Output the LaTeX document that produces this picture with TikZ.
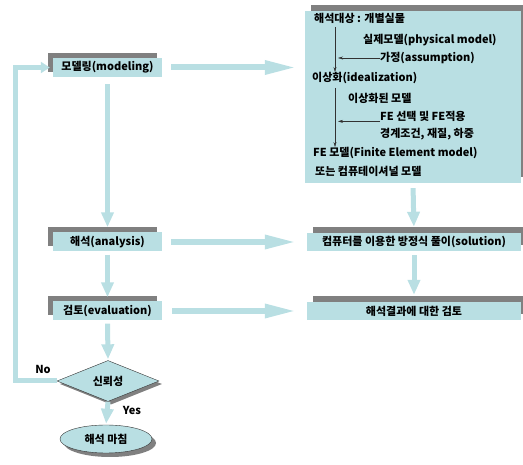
\documentclass[tikz,border=0pt]{standalone}
\usepackage{fontspec}
\setmainfont{Noto Sans CJK KR}
\usetikzlibrary{shapes.geometric, arrows.meta, positioning, calc, shadows}
\definecolor{pale_cyan}{RGB}{185, 223, 227}
\definecolor{shade_gray}{RGB}{128, 128, 128}
\definecolor{line_gray}{RGB}{50, 50, 50}

\begin{document}
\begin{tikzpicture}[
    x=1pt, y=-1pt,
    font=\fontsize{11}{13}\selectfont\bfseries,
    stage/.style={
        rectangle,
        fill=pale_cyan,
        minimum width=109pt,
        minimum height=19pt,
        inner sep=0pt,
        general shadow={fill=shade_gray, shadow xshift=-5pt, shadow yshift=5pt}
    },
    result/.style={
        rectangle,
        fill=pale_cyan,
        minimum width=214pt,
        minimum height=18pt,
        inner sep=0pt,
        general shadow={fill=shade_gray, shadow xshift=6pt, shadow yshift=6pt}
    },
    check/.style={
        diamond,
        draw=line_gray,
        fill=pale_cyan,
        minimum width=102pt,
        minimum height=41pt,
        inner sep=0pt,
        general shadow={fill=shade_gray, shadow xshift=3pt, shadow yshift=-3pt}
    },
    finish/.style={
        ellipse,
        draw=line_gray,
        fill=pale_cyan,
        minimum width=92pt,
        minimum height=28pt,
        inner sep=0pt,
        general shadow={fill=shade_gray, shadow xshift=4pt, shadow yshift=-4pt}
    },
    item/.style={
        anchor=west,
        inner sep=0pt
    },
    note/.style={
        inner sep=0pt
    },
    flow/.style={
        draw=pale_cyan,
        line width=6pt,
        -{Triangle[length=32pt, width=13pt]}
    },
    drop/.style={
        draw=pale_cyan,
        line width=5pt,
        -{Triangle[length=15pt, width=12pt]}
    },
    back_flow/.style={
        draw=pale_cyan,
        line width=5pt,
        -{Triangle[length=9pt, width=11pt]}
    },
    pointer/.style={
        draw=line_gray,
        thin,
        -{Stealth[length=5pt, width=3pt]}
    },
]
\useasboundingbox (0,0) rectangle (523,465);

% Left column
\node[stage] (model) at (107.5,67.5) {모델링(modeling)};
\node[stage] (analysis) at (107.5,242) {해석(analysis)};
\node[stage] (review) at (107.5,311) {검토(evaluation)};
\node[check] (trust) at (108,381) {신뢰성};
\node[finish] (done) at (106,439) {해석 마침};

\node[note] (no_tag) at (43,369) {No};
\node[note] (yes_tag) at (132,410) {Yes};

% Right column
\node[result, minimum width=216pt, minimum height=172pt] (target) at (413,97) {};
\node[result] (solve) at (414,242) {컴퓨터를 이용한 방정식 풀이(solution)};
\node[result] (check_out) at (414,311) {해석결과에 대한 검토};

\node[item] (object) at (314,18) {해석대상 : 개별실물};
\node[item] (physical) at (363,40) {실제모델(physical model)};
\node[item] (assume) at (380,58) {가정(assumption)};
\node[item] (ideal) at (312,78) {이상화(idealization)};
\node[item] (ideal_model) at (348,98) {이상화된 모델};
\node[item] (fe_pick) at (380,116) {FE 선택 및 FE적용};
\node[item] (bc) at (380,134) {경계조건, 재질, 하중};
\node[item] (fe_model) at (313,153) {FE 모델(Finite Element model)};
\node[item] (comp_model) at (315,171) {또는 컴퓨테이셔널 모델};

% Thin arrows in the model box
\coordinate (stem_a) at (335,27);
\coordinate (stem_b) at (335,88);
\draw[pointer] (stem_a) -- (stem_a |- ideal.north);
\draw[pointer, shorten >=3pt] (assume.west) -- (stem_a |- assume.west);
\draw[pointer] (stem_b) -- (stem_b |- fe_model.north);
\draw[pointer, shorten >=3pt] (fe_pick.south west) -- (stem_b |- fe_pick.south west);

% Broad arrows
\draw[flow, shorten <=9pt, shorten >=8pt] (model.east) -- (model.east -| target.west);
\draw[flow, shorten <=9pt, shorten >=10pt] (analysis.east) -- (solve.west);
\draw[flow, shorten <=10pt, shorten >=10pt] (review.east) -- (check_out.west);

\draw[drop, shorten <=7pt, shorten >=5pt] (model.south) -- (analysis.north);
\draw[drop, shorten <=3pt, shorten >=4pt] (analysis.south) -- (review.north);
\draw[drop, shorten <=3pt, shorten >=1pt] (review.south) -- (trust.north);
\draw[drop, shorten >=1pt] (trust.south) -- (done.north);
\draw[drop, shorten <=5pt, shorten >=6pt] (target.south) -- (solve.north);
\draw[drop, shorten <=4pt, shorten >=7pt] (solve.south) -- (check_out.north);

% No loop back to modeling
\coordinate (loop_corner) at (15,381);
\draw[back_flow, shorten >=3pt] (trust.west) -- (loop_corner) |- (model.west);

\end{tikzpicture}
\end{document}
